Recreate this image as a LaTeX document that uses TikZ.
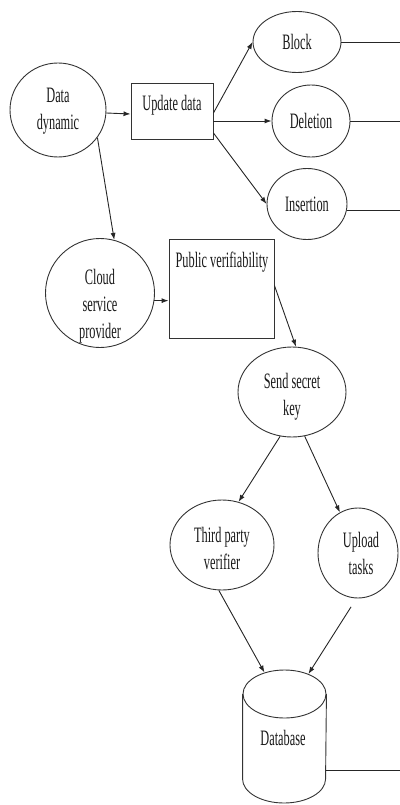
\documentclass[tikz,border=0pt]{standalone}
\usepackage{fontspec}
\setmainfont{Liberation Serif}[FakeStretch=0.56]
\usetikzlibrary{arrows.meta,shapes.geometric,calc}
\begin{document}
\begin{tikzpicture}[x=1pt,y=-1pt,
  shp/.style={draw=black!80, line width=0.9pt},
  ell/.style={shp, ellipse, inner sep=0pt},
  box/.style={shp, rectangle, inner sep=0pt},
  txt/.style={font=\fontsize{22}{27}\selectfont, align=center, inner sep=0pt, text=black!90},
  arr/.style={line width=0.9pt, draw=black!85, -{Latex[length=7pt,width=5pt]}},
  ln/.style={line width=0.9pt, draw=black!85},
]
\useasboundingbox (0,0) rectangle (399,805);
\coordinate (edge) at (400,0);

% top part
\node[ell, minimum width=96pt, minimum height=94pt] (dd) at (58,110) {};
\node[txt] (ddt) at (58,111) {Data\\dynamic};
\node[box, minimum width=82pt, minimum height=56pt] (upd) at (172,111) {};
\node[txt, anchor=base] (updt) at (172,111) {Update data};
\node[ell, txt, minimum width=88pt, minimum height=61pt] (blk) at (297,42) {Block};
\node[ell, txt, minimum width=78pt, minimum height=72pt] (del) at (311,121) {Deletion};
\node[ell, txt, minimum width=80pt, minimum height=71pt] (ins) at (307,204) {Insertion};

% middle part
\node[ell, minimum width=109pt, minimum height=109pt] (cloud) at (100,293) {};
\node[txt] (cloudt) at (100,306) {Cloud\\service\\provider};
\node[box, minimum width=105pt, minimum height=99pt] (pub) at (221.5,288.5) {};
\node[txt, anchor=base] (pubt) at (222,267) {Public verifiability};
\node[ell, minimum width=108pt, minimum height=90pt] (send) at (292,392) {};
\node[txt] (sendt) at (292,397) {Send secret\\key};
\node[ell, minimum width=104pt, minimum height=90pt] (third) at (222,545) {};
\node[txt] (thirdt) at (222,548) {Third party\\verifier};
\node[ell, minimum width=80pt, minimum height=90pt] (upl) at (358,553) {};
\node[txt] (uplt) at (361,553) {Upload\\tasks};

% database
\node[ell, minimum width=83pt, minimum height=48pt] (dbtop) at (284.5,694) {};
\node[minimum width=83pt, minimum height=133pt, inner sep=0pt] (db) at (284.5,736.5) {};
\node[txt] (dbt) at (283,738) {Database};
\draw[shp] (dbtop.west) -- ++(0,85) arc[start angle=180, end angle=360, x radius=41.5pt, y radius=24pt] -- (dbtop.east);

% connectors
\draw[arr] ([yshift=-3pt]dd.east) -- ([yshift=-3pt]upd.west);
\draw[arr] ([yshift=-2pt]upd.east) -- (blk.west);
\draw[arr] (upd.east |- del.west) -- (del.west);
\draw[arr] ([yshift=-22pt]upd.east) -- (ins.west);
\draw[ln] (blk.east) -- (blk.east -| edge);
\draw[ln] (del.east) -- (del.east -| edge);
\draw[ln] (ins.-9) -- (ins.-9 -| edge);
\draw[arr] (dd.-35) -- (cloud.75);
\draw[arr] (cloud.-8) -- (cloud.-8 -| pub.west);
\draw[arr] ([yshift=3pt]pub.east) -- (send.85);
\draw[arr] (send.-105) -- (third.69);
\draw[arr] (send.-74) -- (upl.114);
\draw[arr] (third.-94) -- (dbtop.133);
\draw[arr, shorten <=10pt] (upl.-92) -- (dbtop.40);
\draw[ln] ([yshift=-33.5pt]db.east) -- ([yshift=-33.5pt]db.east -| edge);
\end{tikzpicture}
\end{document}
